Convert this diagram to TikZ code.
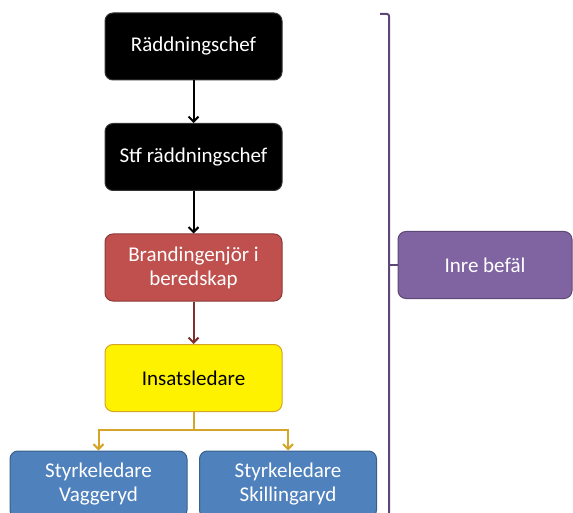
\documentclass[tikz,border=0pt]{standalone}
\usepackage{fontspec}
\setmainfont{Carlito}
\usetikzlibrary{arrows, arrows.meta, positioning}
\definecolor{redfill}{HTML}{C0504D}
\definecolor{redline}{HTML}{8C3A38}
\definecolor{bluefill}{HTML}{4F81BD}
\definecolor{blueline}{HTML}{3A5F8B}
\definecolor{purplefill}{HTML}{8064A2}
\definecolor{purpleline}{HTML}{5C4776}
\definecolor{goldline}{HTML}{D4A528}
\definecolor{arrowred}{HTML}{7F2F2D}
\tikzstyle{chefbox} = [rectangle, rounded corners=8pt, draw=black!80, fill=black,
    text=white, minimum width=177pt, minimum height=67pt, align=center,
    font=\fontsize{21}{24}\selectfont, line width=1pt]
\tikzstyle{redbox} = [chefbox, draw=redline, fill=redfill]
\tikzstyle{yellowbox} = [chefbox, draw=goldline, fill=yellow, text=black]
\tikzstyle{bluebox} = [chefbox, draw=blueline, fill=bluefill]
\tikzstyle{purplebox} = [chefbox, draw=purpleline, fill=purplefill, minimum width=174pt]
\tikzstyle{pil} = [line width=2pt, -{Straight Barb[length=5pt,width=10pt]}]

\begin{document}
\begin{tikzpicture}[x=1pt, y=-1pt, node distance=42.5pt]
    \useasboundingbox (0,0) rectangle (573,513);
    \node [chefbox] (chef) at (193.5,46.5) {Räddningschef};
    \node [chefbox, below=of chef] (stf) {Stf räddningschef};
    \node [redbox, below=of stf] (brand) {Brandingenjör i\\beredskap};
    \node [yellowbox, below=of brand] (insats) {Insatsledare};
    \node [bluebox] (vagg) at (98.5,484.5) {Styrkeledare\\Vaggeryd};
    \node [bluebox] (skill) at (288,484.5) {Styrkeledare\\Skillingaryd};
    \node [purplebox] (inre) at (485,265) {Inre befäl};
    \coordinate (fork) at (193.5,430);
    \coordinate (brtop) at (380,14);
    \coordinate (brbot) at (389,513);

    \draw [pil, black] (chef) -- (stf);
    \draw [pil, black] (stf) -- (brand);
    \draw [pil, arrowred] (brand) -- (insats);
    \draw [goldline, line width=2pt] (insats.south) -- (fork);
    \draw [pil, goldline] (fork) -| (vagg.north);
    \draw [pil, goldline] (fork) -| (skill.north);
    \draw [purpleline, line width=2pt, rounded corners=2pt] (brtop) -| (brbot);
    \draw [purpleline, line width=2pt] (inre.west) -- (inre.west -| brbot);
\end{tikzpicture}
\end{document}
